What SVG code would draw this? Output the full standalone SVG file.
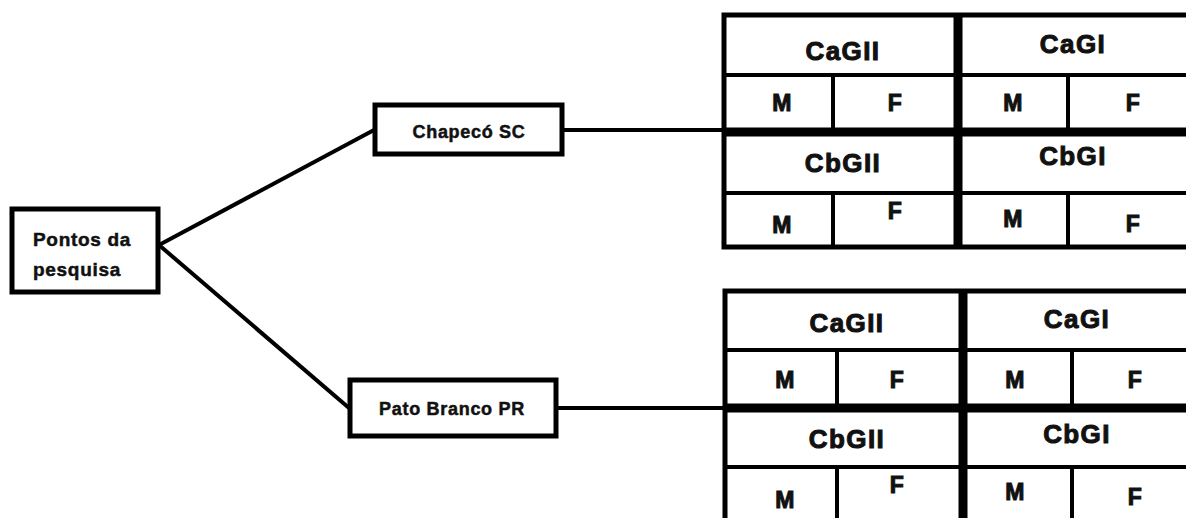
<svg xmlns="http://www.w3.org/2000/svg" width="1186" height="518" viewBox="0 0 1186 518">
<style>
.box{fill:#fff;stroke:#000;stroke-width:5}
.ln{stroke:#000;stroke-width:4;fill:none}
.thick{stroke:#000;stroke-width:9;fill:none}
.t{font-family:"Liberation Sans",Arial,sans-serif;font-weight:bold;fill:#111;stroke:#111;text-anchor:middle}
.n{font-size:19px;text-anchor:start;letter-spacing:0.7px;stroke-width:0.5}
.c{font-size:18px;letter-spacing:0.7px;stroke-width:0.5}
.h{font-size:26px;letter-spacing:1.4px;stroke-width:1}
.s{font-size:23px;letter-spacing:0.5px;stroke-width:1}
</style>
<rect width="1186" height="518" fill="#fff"/>
<g id="connectors">
<line class="ln" x1="159" y1="245" x2="374" y2="130"/>
<line class="ln" x1="159" y1="245" x2="349" y2="408"/>
<line class="ln" x1="563" y1="130" x2="724" y2="130"/>
<line class="ln" x1="557" y1="408" x2="725" y2="408"/>
</g>
<g id="pontos">
<rect class="box" x="12" y="209" width="146" height="83"/>
<text class="t n" x="33" y="246">Pontos da</text>
<text class="t n" x="33" y="276">pesquisa</text>
</g>
<g id="chapeco">
<rect class="box" x="375" y="105" width="187" height="49"/>
<text class="t c" x="469" y="138">Chapecó SC</text>
</g>
<g id="pato">
<rect class="box" x="350" y="380" width="206" height="56"/>
<text class="t c" x="452" y="415">Pato Branco PR</text>
</g>
<g id="table-chapeco">
<rect class="box" x="724" y="15" width="480" height="232"/>
<line class="thick" x1="958" y1="15" x2="958" y2="247"/>
<line class="thick" x1="724" y1="132" x2="1190" y2="132"/>
<line class="ln" x1="724" y1="75" x2="1190" y2="75"/>
<line class="ln" x1="724" y1="193" x2="1190" y2="193"/>
<line class="ln" x1="833" y1="75" x2="833" y2="128"/>
<line class="ln" x1="1068" y1="75" x2="1068" y2="128"/>
<line class="ln" x1="833" y1="193" x2="833" y2="247"/>
<line class="ln" x1="1068" y1="193" x2="1068" y2="247"/>
<text class="t h" x="843" y="60">CaGII</text>
<text class="t h" x="1073" y="53">CaGI</text>
<text class="t s" x="782" y="111">M</text>
<text class="t s" x="895" y="111">F</text>
<text class="t s" x="1013" y="111">M</text>
<text class="t s" x="1133" y="111">F</text>
<text class="t h" x="843" y="172">CbGII</text>
<text class="t h" x="1073" y="165">CbGI</text>
<text class="t s" x="782" y="233">M</text>
<text class="t s" x="895" y="219">F</text>
<text class="t s" x="1013" y="227">M</text>
<text class="t s" x="1133" y="232">F</text>
</g>
<g id="table-pato">
<rect class="box" x="725" y="291" width="480" height="240"/>
<line class="thick" x1="963" y1="291" x2="963" y2="520"/>
<line class="thick" x1="725" y1="408" x2="1190" y2="408"/>
<line class="ln" x1="725" y1="350" x2="1190" y2="350"/>
<line class="ln" x1="725" y1="467" x2="1190" y2="467"/>
<line class="ln" x1="837" y1="350" x2="837" y2="404"/>
<line class="ln" x1="1072" y1="350" x2="1072" y2="404"/>
<line class="ln" x1="837" y1="467" x2="837" y2="520"/>
<line class="ln" x1="1072" y1="467" x2="1072" y2="520"/>
<text class="t h" x="847" y="332">CaGII</text>
<text class="t h" x="1077" y="328">CaGI</text>
<text class="t s" x="785" y="388">M</text>
<text class="t s" x="897" y="388">F</text>
<text class="t s" x="1015" y="388">M</text>
<text class="t s" x="1135" y="388">F</text>
<text class="t h" x="847" y="448">CbGII</text>
<text class="t h" x="1077" y="443">CbGI</text>
<text class="t s" x="785" y="508">M</text>
<text class="t s" x="897" y="493">F</text>
<text class="t s" x="1015" y="500">M</text>
<text class="t s" x="1135" y="505">F</text>
</g>
</svg>
